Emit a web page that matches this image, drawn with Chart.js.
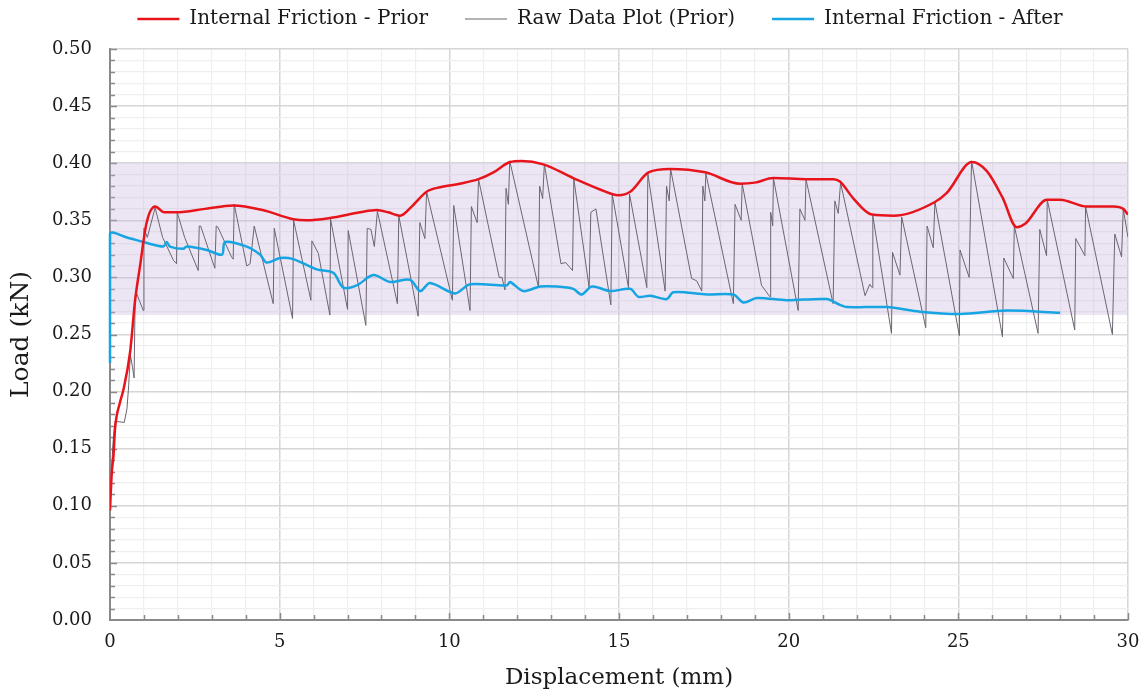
<!DOCTYPE html>
<html>
<head>
<meta charset="utf-8">
<script src="https://cdn.jsdelivr.net/npm/chart.js@4.4.1/dist/chart.umd.min.js"></script>
<style>
  html, body { margin: 0; padding: 0; background: #fff; }
  canvas { display: block; }
</style>
</head>
<body>
<canvas id="c" width="1143" height="696"></canvas>
<script>
/* Internal Friction - Prior (upper envelope) */
const priorX = [0, 0.05, 0.1, 0.15, 0.29, 0.39, 0.59, 0.74, 0.88, 1.08, 1.33, 1.6, 1.96, 2.8, 3.63, 4.5, 5.4, 5.8, 6.48, 7.37, 7.86, 8.2, 8.55, 8.89, 9.33, 9.73, 10.3, 10.86, 11.3, 11.79, 12.13, 12.77, 13.65, 14.44, 14.98, 15.33, 15.87, 16.5, 17.54, 18.57, 19.0, 19.55, 20.53, 21.32, 21.51, 21.91, 22.45, 23.09, 24.31, 24.66, 25.4, 25.84, 26.3, 26.72, 26.97, 27.61, 28.0, 28.79, 29.57, 29.86, 30.0];
const priorY = [0.096, 0.128, 0.143, 0.168, 0.19, 0.201, 0.234, 0.28, 0.309, 0.348, 0.362, 0.357, 0.357, 0.360, 0.363, 0.359, 0.351, 0.350, 0.352, 0.357, 0.359, 0.357, 0.354, 0.362, 0.375, 0.379, 0.382, 0.386, 0.392, 0.401, 0.402, 0.399, 0.387, 0.377, 0.372, 0.375, 0.392, 0.395, 0.392, 0.382, 0.383, 0.387, 0.386, 0.386, 0.384, 0.369, 0.355, 0.354, 0.366, 0.374, 0.401, 0.393, 0.37, 0.344, 0.347, 0.368, 0.368, 0.362, 0.362, 0.360, 0.355];

/* Raw Data Plot (Prior) */
const rawX = [0.02, 0.05, 0.1, 0.15, 0.42, 0.5, 0.55, 0.6, 0.66, 0.71, 0.74, 0.77, 0.98, 1.0, 1.1, 1.33, 1.55, 1.87, 1.96, 1.98, 2.2, 2.6, 2.63, 2.67, 3.09, 3.13, 3.18, 3.58, 3.63, 3.66, 4.03, 4.13, 4.25, 4.81, 4.84, 5.38, 5.41, 5.92, 5.95, 6.14, 6.48, 6.5, 7.0, 7.02, 7.54, 7.58, 7.69, 7.79, 7.88, 8.47, 8.51, 9.08, 9.13, 9.28, 9.33, 10.09, 10.13, 10.61, 10.65, 10.82, 10.86, 11.47, 11.55, 11.64, 11.67, 11.74, 11.78, 12.63, 12.66, 12.75, 12.8, 13.29, 13.43, 13.63, 13.67, 14.12, 14.17, 14.32, 14.76, 14.8, 15.28, 15.31, 15.82, 15.85, 16.36, 16.4, 16.48, 16.52, 17.14, 17.29, 17.44, 17.47, 17.53, 17.56, 18.37, 18.42, 18.6, 18.63, 19.2, 19.45, 19.47, 19.53, 19.55, 20.28, 20.33, 20.48, 20.51, 21.31, 21.36, 21.46, 21.53, 22.25, 22.39, 22.46, 22.48, 23.03, 23.06, 23.28, 23.33, 24.04, 24.08, 24.26, 24.31, 25.03, 25.05, 25.32, 25.36, 25.39, 26.3, 26.34, 26.62, 26.65, 27.35, 27.4, 27.6, 27.62, 28.43, 28.46, 28.73, 28.75, 29.54, 29.61, 29.81, 29.86, 30.0];
const rawY = [0.11, 0.135, 0.16, 0.174, 0.173, 0.185, 0.205, 0.232, 0.222, 0.212, 0.28, 0.287, 0.271, 0.343, 0.335, 0.361, 0.335, 0.315, 0.312, 0.357, 0.335, 0.306, 0.345, 0.345, 0.308, 0.345, 0.344, 0.318, 0.316, 0.364, 0.31, 0.312, 0.345, 0.277, 0.343, 0.264, 0.35, 0.28, 0.332, 0.321, 0.267, 0.351, 0.272, 0.341, 0.258, 0.343, 0.342, 0.327, 0.358, 0.277, 0.354, 0.266, 0.348, 0.334, 0.375, 0.28, 0.363, 0.271, 0.362, 0.348, 0.386, 0.3, 0.3, 0.289, 0.378, 0.364, 0.402, 0.291, 0.38, 0.369, 0.399, 0.312, 0.313, 0.306, 0.386, 0.291, 0.357, 0.36, 0.276, 0.373, 0.291, 0.373, 0.291, 0.391, 0.288, 0.38, 0.367, 0.395, 0.299, 0.297, 0.288, 0.38, 0.367, 0.391, 0.277, 0.364, 0.35, 0.382, 0.293, 0.283, 0.357, 0.345, 0.387, 0.271, 0.36, 0.35, 0.386, 0.277, 0.367, 0.356, 0.383, 0.284, 0.294, 0.291, 0.354, 0.251, 0.322, 0.302, 0.353, 0.256, 0.345, 0.326, 0.366, 0.249, 0.324, 0.3, 0.362, 0.402, 0.248, 0.317, 0.299, 0.345, 0.251, 0.342, 0.319, 0.368, 0.254, 0.334, 0.319, 0.362, 0.25, 0.338, 0.318, 0.36, 0.335];

/* Internal Friction - After */
const afterX = [0, 0, 0.5, 0.98, 1.57, 1.67, 1.77, 2.16, 2.26, 2.85, 3.3, 3.39, 4.03, 4.42, 4.62, 5.01, 5.4, 6.09, 6.58, 6.88, 7.27, 7.76, 8.25, 8.84, 9.14, 9.43, 10.17, 10.61, 11.69, 11.79, 12.18, 12.67, 13.17, 13.65, 13.9, 14.2, 14.74, 15.33, 15.57, 15.92, 16.41, 16.6, 17.59, 18.37, 18.67, 19.06, 19.94, 21.12, 21.51, 21.71, 22.89, 23.87, 25.05, 26.43, 28.0];
const afterY = [0.225, 0.338, 0.335, 0.331, 0.327, 0.331, 0.327, 0.325, 0.327, 0.324, 0.32, 0.331, 0.327, 0.32, 0.313, 0.317, 0.316, 0.307, 0.304, 0.291, 0.293, 0.302, 0.296, 0.298, 0.288, 0.295, 0.286, 0.294, 0.293, 0.296, 0.288, 0.292, 0.292, 0.29, 0.285, 0.292, 0.288, 0.29, 0.283, 0.284, 0.281, 0.287, 0.285, 0.285, 0.278, 0.282, 0.28, 0.281, 0.276, 0.274, 0.274, 0.27, 0.268, 0.271, 0.269];

/* shaded range */
const bandTop = 0.40;
const bandBottom = 0.267;

const FONT = 'DejaVu Serif';
const toPts = (xs, ys) => xs.map((x, i) => ({ x, y: ys[i] }));

// short tick marks pointing into the plot area
const innerTicks = {
  id: 'innerTicks',
  beforeDatasetsDraw(chart) {
    const { ctx, chartArea: a, scales: { x, y } } = chart;
    ctx.save();
    ctx.strokeStyle = '#8a8a8a';
    ctx.lineWidth = 1.5;
    ctx.beginPath();
    for (let v = 1; v <= 30; v++) {
      const px = Math.round(x.getPixelForValue(v)) + 0.5;
      const len = v % 5 === 0 ? 7 : 5;
      ctx.moveTo(px, a.bottom);
      ctx.lineTo(px, a.bottom - len);
    }
    for (let k = 1; k <= 50; k++) {
      const py = Math.round(y.getPixelForValue(k / 100)) + 0.5;
      const len = k % 5 === 0 ? 7 : 5;
      ctx.moveTo(a.left, py);
      ctx.lineTo(a.left + len, py);
    }
    ctx.stroke();
    ctx.restore();
  }
};

// legend: fixed height, and nudged right to sit like the original
const legendTweak = {
  id: 'legendTweak',
  beforeLayout(chart) {
    const lg = chart.legend;
    if (lg && !lg._tweaked) {
      const fit = lg.fit;
      lg.fit = function () { fit.call(this); this.height = 77; };
      lg._tweaked = true;
    }
  },
  afterLayout(chart) {
    const lg = chart.legend;
    if (lg) { lg.left += 36; lg.right += 36; }
  }
};

new Chart(document.getElementById('c'), {
  type: 'scatter',
  data: {
    datasets: [
      {
        label: 'Internal Friction - Prior',
        data: toPts(priorX, priorY),
        showLine: true, borderColor: '#e8141c', backgroundColor: '#e8141c',
        borderWidth: 2.5, pointRadius: 0, cubicInterpolationMode: 'monotone', order: 1
      },
      {
        label: 'Raw Data Plot (Prior)',
        data: toPts(rawX, rawY),
        showLine: true, borderColor: '#6c6470', backgroundColor: '#6c6470',
        borderWidth: 1, pointRadius: 0, tension: 0, order: 5
      },
      {
        label: 'Internal Friction - After',
        data: toPts(afterX, afterY),
        showLine: true, borderColor: '#16a4e2', backgroundColor: '#16a4e2',
        borderWidth: 2.5, pointRadius: 0, tension: 0.3, order: 2, clip: false
      },
      {
        label: 'band',
        data: [{ x: 0, y: bandTop }, { x: 30, y: bandTop }],
        showLine: true, borderWidth: 0, pointRadius: 0,
        borderColor: 'rgba(0,0,0,0)',
        backgroundColor: 'rgba(196,176,220,0.32)',
        fill: { value: bandBottom }, order: 10
      }
    ]
  },
  options: {
    responsive: false,
    animation: false,
    layout: { padding: { left: 0, right: 15, top: -28, bottom: 0 } },
    plugins: {
      tooltip: { enabled: false },
      legend: {
        position: 'top',
        labels: {
          usePointStyle: true, pointStyle: 'line', pointStyleWidth: 42,
          color: '#1a1a1a', padding: 37,
          font: { family: FONT, size: 20 },
          filter: item => item.text !== 'band',
          sort: (a, b) => a.datasetIndex - b.datasetIndex
        }
      }
    },
    scales: {
      x: {
        type: 'linear', min: 0, max: 30,
        afterFit: s => { s.height = 76; s.paddingRight = 0; s.paddingLeft = 0; },
        border: { color: '#8a8a8a', width: 2 },
        grid: {
          drawTicks: false,
          color: c => (c.tick && c.tick.value % 5 === 0) ? '#d6d6d6' : '#efefef',
          lineWidth: c => (c.tick && c.tick.value % 5 === 0) ? 1.5 : 1.2
        },
        ticks: {
          stepSize: 1, autoSkip: false, maxRotation: 0, padding: 12,
          color: '#1a1a1a', font: { family: FONT, size: 18 },
          callback: v => v % 5 === 0 ? String(v) : ''
        },
        title: {
          display: true, text: 'Displacement (mm)', color: '#1a1a1a',
          font: { family: FONT, size: 23 }, padding: { top: 2 }
        }
      },
      y: {
        min: 0, max: 0.5,
        afterFit: s => { s.width = 110; s.paddingTop = 0; s.paddingBottom = 0; },
        border: { color: '#8a8a8a', width: 2 },
        grid: {
          drawTicks: false,
          color: c => (c.tick && Math.round(c.tick.value * 100) % 5 === 0) ? '#d6d6d6' : '#efefef',
          lineWidth: c => (c.tick && Math.round(c.tick.value * 100) % 5 === 0) ? 1.5 : 1.2
        },
        ticks: {
          stepSize: 0.01, autoSkip: false, padding: 18,
          color: '#1a1a1a', font: { family: FONT, size: 18 },
          callback: v => Math.round(v * 100) % 5 === 0 ? v.toFixed(2) : ''
        },
        title: {
          display: true, text: 'Load (kN)', color: '#1a1a1a',
          font: { family: FONT, size: 25 }, padding: { top: 6, bottom: 4 }
        }
      }
    }
  },
  plugins: [innerTicks, legendTweak]
});
</script>
</body>
</html>
